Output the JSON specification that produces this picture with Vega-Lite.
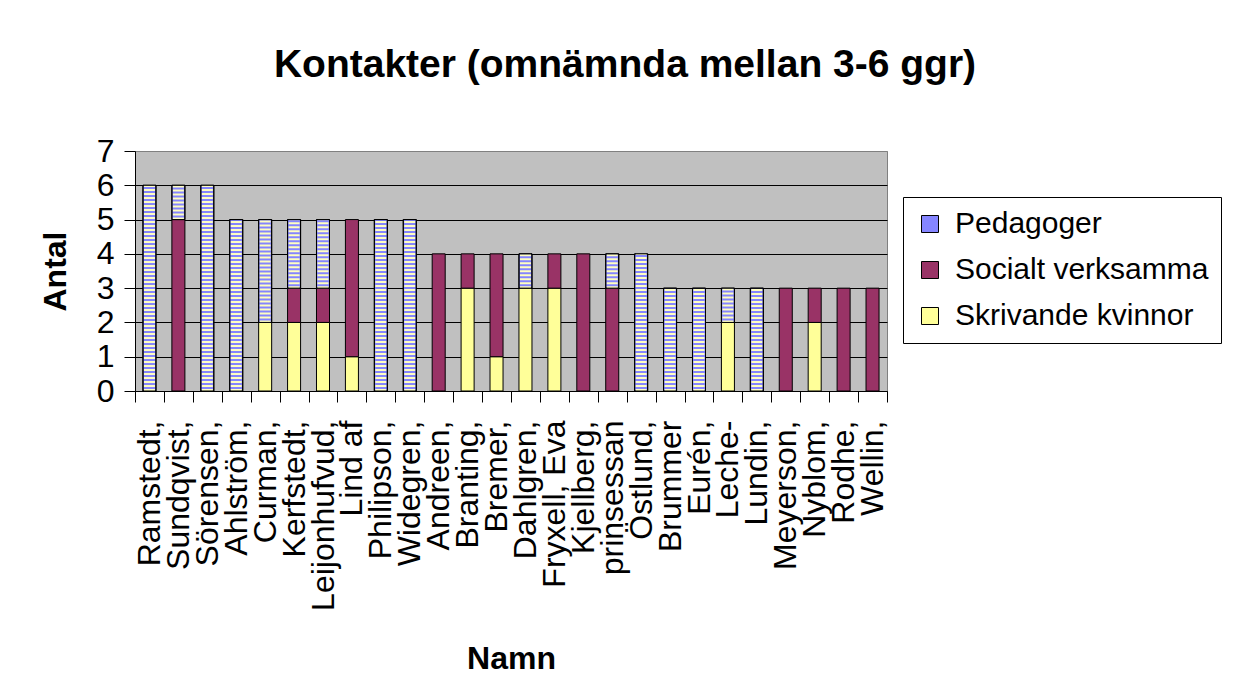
{
  "$schema": "https://vega.github.io/schema/vega-lite/v6.json",
  "width": 752,
  "height": 240,
  "autosize": {"type": "none"},
  "padding": {"left": 135, "top": 151, "right": 351, "bottom": 306},
  "background": "white",
  "config": {
    "font": "Liberation Sans",
    "view": {"fill": "#C0C0C0", "stroke": "#808080", "strokeWidth": 1}
  },
  "title": {
    "text": "Kontakter (omnämnda mellan 3-6 ggr)",
    "font": "Liberation Sans",
    "fontSize": 39,
    "fontWeight": "bold",
    "color": "black",
    "anchor": "middle",
    "frame": "group",
    "dx": 114,
    "baseline": "alphabetic",
    "offset": 19
  },
  "data": {
    "values": [
      {"namn": "Ramstedt,", "kategori": "Pedagoger", "antal": 6},
      {"namn": "Sundqvist,", "kategori": "Socialt verksamma", "antal": 5},
      {"namn": "Sundqvist,", "kategori": "Pedagoger", "antal": 1},
      {"namn": "Sörensen,", "kategori": "Pedagoger", "antal": 6},
      {"namn": "Ahlström,", "kategori": "Pedagoger", "antal": 5},
      {"namn": "Curman,", "kategori": "Skrivande kvinnor", "antal": 2},
      {"namn": "Curman,", "kategori": "Pedagoger", "antal": 3},
      {"namn": "Kerfstedt,", "kategori": "Skrivande kvinnor", "antal": 2},
      {"namn": "Kerfstedt,", "kategori": "Socialt verksamma", "antal": 1},
      {"namn": "Kerfstedt,", "kategori": "Pedagoger", "antal": 2},
      {"namn": "Leijonhufvud,", "kategori": "Skrivande kvinnor", "antal": 2},
      {"namn": "Leijonhufvud,", "kategori": "Socialt verksamma", "antal": 1},
      {"namn": "Leijonhufvud,", "kategori": "Pedagoger", "antal": 2},
      {"namn": "Lind af", "kategori": "Skrivande kvinnor", "antal": 1},
      {"namn": "Lind af", "kategori": "Socialt verksamma", "antal": 4},
      {"namn": "Philipson,", "kategori": "Pedagoger", "antal": 5},
      {"namn": "Widegren,", "kategori": "Pedagoger", "antal": 5},
      {"namn": "Andreen,", "kategori": "Socialt verksamma", "antal": 4},
      {"namn": "Branting,", "kategori": "Skrivande kvinnor", "antal": 3},
      {"namn": "Branting,", "kategori": "Socialt verksamma", "antal": 1},
      {"namn": "Bremer,", "kategori": "Skrivande kvinnor", "antal": 1},
      {"namn": "Bremer,", "kategori": "Socialt verksamma", "antal": 3},
      {"namn": "Dahlgren,", "kategori": "Skrivande kvinnor", "antal": 3},
      {"namn": "Dahlgren,", "kategori": "Pedagoger", "antal": 1},
      {"namn": "Fryxell, Eva", "kategori": "Skrivande kvinnor", "antal": 3},
      {"namn": "Fryxell, Eva", "kategori": "Socialt verksamma", "antal": 1},
      {"namn": "Kjellberg,", "kategori": "Socialt verksamma", "antal": 4},
      {"namn": "prinsessan", "kategori": "Socialt verksamma", "antal": 3},
      {"namn": "prinsessan", "kategori": "Pedagoger", "antal": 1},
      {"namn": "Östlund,", "kategori": "Pedagoger", "antal": 4},
      {"namn": "Brummer", "kategori": "Pedagoger", "antal": 3},
      {"namn": "Eurén,", "kategori": "Pedagoger", "antal": 3},
      {"namn": "Leche-", "kategori": "Skrivande kvinnor", "antal": 2},
      {"namn": "Leche-", "kategori": "Pedagoger", "antal": 1},
      {"namn": "Lundin,", "kategori": "Pedagoger", "antal": 3},
      {"namn": "Meyerson,", "kategori": "Socialt verksamma", "antal": 3},
      {"namn": "Nyblom,", "kategori": "Skrivande kvinnor", "antal": 2},
      {"namn": "Nyblom,", "kategori": "Socialt verksamma", "antal": 1},
      {"namn": "Rodhe,", "kategori": "Socialt verksamma", "antal": 3},
      {"namn": "Wellin,", "kategori": "Socialt verksamma", "antal": 3}
    ]
  },
  "transform": [
    {"calculate": "indexof(['Skrivande kvinnor','Socialt verksamma','Pedagoger'], datum.kategori)", "as": "ordning"},
    {"stack": "antal", "groupby": ["namn"], "sort": [{"field": "ordning", "order": "ascending"}], "as": ["y0", "y1"]}
  ],
  "encoding": {
    "x": {
      "field": "namn",
      "type": "nominal",
      "sort": ["Ramstedt,", "Sundqvist,", "Sörensen,", "Ahlström,", "Curman,", "Kerfstedt,", "Leijonhufvud,", "Lind af", "Philipson,", "Widegren,", "Andreen,", "Branting,", "Bremer,", "Dahlgren,", "Fryxell, Eva", "Kjellberg,", "prinsessan", "Östlund,", "Brummer", "Eurén,", "Leche-", "Lundin,", "Meyerson,", "Nyblom,", "Rodhe,", "Wellin,"],
      "title": "Namn",
      "scale": {"paddingInner": 0, "paddingOuter": 0},
      "axis": {
        "tickBand": "extent",
        "tickSize": 11,
        "tickColor": "black",
        "domainColor": "black",
        "labelAngle": -90,
        "labelFontSize": 32,
        "labelColor": "black",
        "labelPadding": 18,
        "labelLimit": 400,
        "labelOverlap": false,
        "titleFontSize": 32,
        "titleFontWeight": "bold",
        "titleColor": "black",
        "titlePadding": 52
      }
    },
    "y": {
      "field": "y0",
      "type": "quantitative",
      "title": "Antal",
      "scale": {"domain": [0, 7], "nice": false},
      "axis": {
        "values": [0, 1, 2, 3, 4, 5, 6, 7],
        "grid": true,
        "gridColor": {"condition": {"test": "datum.value === 7", "value": "#808080"}, "value": "black"},
        "gridWidth": 1,
        "gridOpacity": 1,
        "domainColor": "black",
        "tickColor": "black",
        "tickSize": 11,
        "labelFontSize": 32,
        "labelColor": "black",
        "labelPadding": 10,
        "titleFontSize": 32,
        "titleFontWeight": "bold",
        "titleColor": "black",
        "titlePadding": 24
      }
    },
    "y2": {"field": "y1"}
  },
  "layer": [
    {
      "mark": {"type": "bar", "stroke": "black", "strokeWidth": 1, "width": {"band": 0.45}},
      "encoding": {
        "color": {
          "field": "kategori",
          "type": "nominal",
          "scale": {"domain": ["Pedagoger", "Socialt verksamma", "Skrivande kvinnor"], "range": ["#8585FF", "#993366", "#FFFF99"]},
          "legend": {
            "title": null,
            "orient": "none",
            "legendX": 768,
            "legendY": 46,
            "direction": "vertical",
            "symbolType": "square",
            "symbolSize": 289,
            "symbolStrokeColor": "black",
            "symbolStrokeWidth": 1,
            "labelFontSize": 30,
            "labelColor": "black",
            "labelFont": "Liberation Sans",
            "labelOffset": 10,
            "labelLimit": 400,
            "rowPadding": 16,
            "padding": 12,
            "strokeColor": "black",
            "fillColor": "white"
          }
        }
      }
    },
    {
      "transform": [{"filter": "datum.kategori === 'Pedagoger'"}],
      "mark": {"type": "rule", "color": "#FFFFC0", "strokeWidth": 11, "strokeDash": [2, 2], "strokeCap": "butt"},
      "encoding": {}
    },
    {
      "transform": [{"filter": "datum.kategori === 'Pedagoger'"}],
      "mark": {"type": "bar", "fillOpacity": 0, "stroke": "black", "strokeWidth": 1, "width": {"band": 0.45}},
      "encoding": {}
    }
  ]
}
